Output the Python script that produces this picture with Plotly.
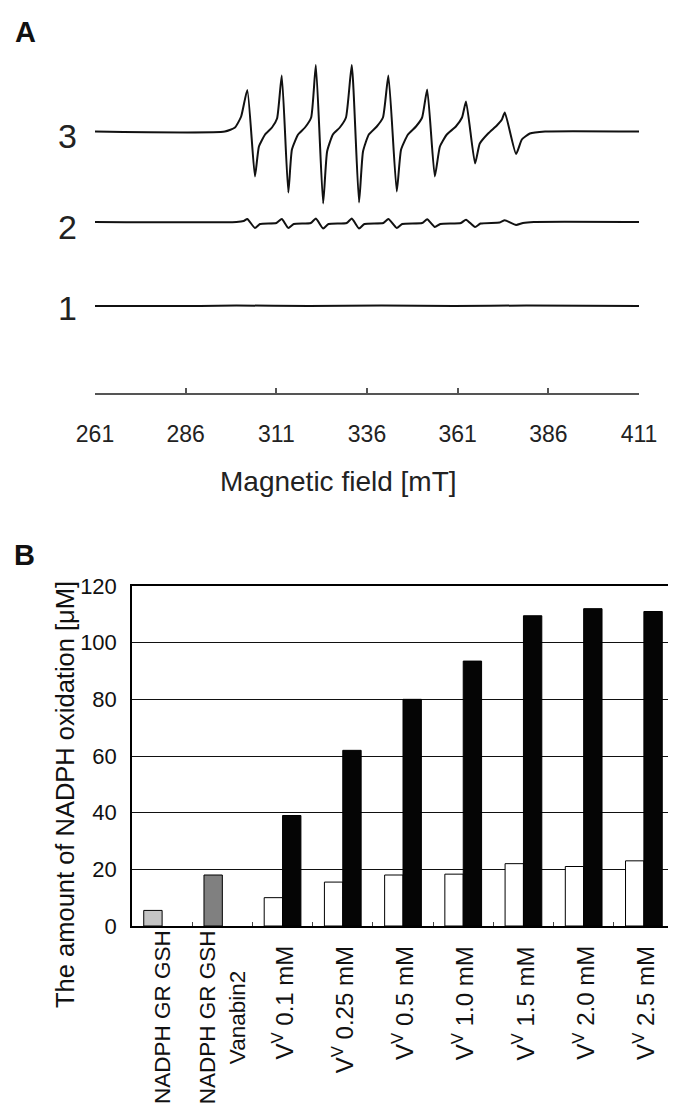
import plotly.graph_objects as go

# ---------------- Panel A data (EPR spectra) ----------------
field_3 = [261, 296.8, 299.6, 301.3, 303.0, 305.1, 306.2, 307.9, 309.8, 311.2,
           312.5, 314.3, 315.3, 317.0, 318.9, 320.6, 321.9, 323.9, 325.0, 326.6,
           328.5, 330.2, 331.8, 333.8, 334.9, 336.5, 338.7, 340.4, 341.9, 344.2,
           345.4, 347.3, 349.5, 351.2, 352.6, 354.7, 356.1, 358.0, 360.5, 362.2,
           363.3, 365.8, 367.1, 369.4, 371.8, 373.2, 374.0, 377.1, 378.7, 380.9,
           385.1, 411]
signal_3 = [0, 0, 4, 15, 41.5, -45, -15, -3, 4, 13,
            56, -61, -18, -3, 4, 14, 66.5, -72, -20, -3,
            4, 14, 66.5, -71, -20, -3, 5, 14, 56, -60,
            -18, -3, 5, 14, 42, -45, -15, -3, 5, 14,
            30, -32, -12, -2, 6, 12, 19, -22.5, -8, -2,
            0, 0]

field_2 = [261, 300.0, 302.0, 303.0, 305.1, 306.5, 311.0, 312.5, 314.3, 315.8,
           320.5, 321.9, 323.9, 325.4, 330.4, 331.8, 333.8, 335.3, 340.5, 341.9,
           344.2, 345.7, 351.2, 352.6, 354.7, 356.2, 361.9, 363.3, 365.8, 367.3,
           372.6, 374.0, 377.1, 379.0, 382.0, 411]
signal_2 = [0, 0, 1, 3, -6, -2, -1, 3, -6, -2,
            -1, 3.5, -6.5, -2, -1, 3.5, -6.5, -2, -1, 3,
            -6, -2, -1, 2.7, -5, -2, -1, 2.3, -5, -1.5,
            -0.5, 1.7, -3, -1, 0, 0]

field_1 = [261, 290, 300, 320, 340, 360, 380, 411]
signal_1 = [0, 0, 0.5, 0, 0.5, 0, 0.5, 0]

trace_labels = ["3", "2", "1"]
field_ticks = [261, 286, 311, 336, 361, 386, 411]

# ---------------- Panel B data ----------------
categories = ["NADPH GR GSH", "NADPH GR GSH<br>Vanabin2", "V<sup>V</sup> 0.1 mM",
              "V<sup>V</sup> 0.25 mM", "V<sup>V</sup> 0.5 mM", "V<sup>V</sup> 1.0 mM",
              "V<sup>V</sup> 1.5 mM", "V<sup>V</sup> 2.0 mM", "V<sup>V</sup> 2.5 mM"]
control_values = [5.5, 18, 10, 15.5, 18, 18.3, 22, 21, 23]
vanabin_values = [None, None, 39, 62, 80, 93.5, 109.5, 112, 111]
y_ticks = [0, 20, 40, 60, 80, 100, 120]

# ---------------- layout helpers (screen pixel geometry; page has an 8px body margin) ----------------
W, H = 676, 1106
OFF = 8
def px(x):
    return (x - OFF) / W
def py(y):
    return (H - (y - OFF)) / H

A_top, A_axis = 50, 393
offsets = {"3": A_axis - 131.5, "2": A_axis - 222, "1": A_axis - 306}
label_tops = [928, 928, 944, 944, 944, 944, 944, 944, 944]
label_sizes = [22.5, 22.5, 24, 24, 24, 24, 24, 24, 24]

FONT = "Liberation Sans, Arial, Helvetica, sans-serif"

fig = go.Figure()

for lab, fx, sg in [("3", field_3, signal_3), ("2", field_2, signal_2), ("1", field_1, signal_1)]:
    fig.add_trace(go.Scatter(
        x=fx, y=[offsets[lab] + v for v in sg], mode="lines",
        line=dict(color="#111111", width=2, shape="spline", smoothing=0.5),
        xaxis="x", yaxis="y", showlegend=False, hoverinfo="skip"))

bar_colors = ["#c4c4c4", "#808080"] + ["#ffffff"] * 7
fig.add_trace(go.Bar(x=categories, y=control_values,
                     marker=dict(color=bar_colors, line=dict(color="#000000", width=1)),
                     xaxis="x2", yaxis="y2", showlegend=False))
fig.add_trace(go.Bar(x=categories, y=vanabin_values,
                     marker=dict(color="#050505", line=dict(color="#000000", width=1)),
                     xaxis="x2", yaxis="y2", showlegend=False))

def note(text, x, y, size, color="#111", angle=0, xref="paper", yanchor="middle"):
    return dict(text=text, x=x, y=y, xref=xref, yref="paper", textangle=angle,
                showarrow=False, xanchor="center", yanchor=yanchor, align="center",
                font=dict(size=size, color=color, family=FONT))

annotations = [
    note("<b>A</b>", px(25), py(32), 29),
    note("<b>B</b>", px(24), py(555), 29),
]
for lab, yc in zip(trace_labels, [136, 227, 308]):
    annotations.append(note(lab, px(67), py(yc), 34, "#222"))
annotations.append(note("Magnetic field [mT]", px(338), py(481), 28, "#222"))
annotations.append(note("The amount of NADPH oxidation [\u03bcM]", px(65), py(795), 25.5, angle=-90))
for c, top, sz in zip(categories, label_tops, label_sizes):
    annotations.append(note(c, c, py(top), sz, angle=-90, xref="x2", yanchor="top"))

fig.update_layout(
    width=W, height=H, autosize=False,
    margin=dict(l=0, r=0, t=0, b=0, pad=0, autoexpand=False),
    paper_bgcolor="white", plot_bgcolor="white",
    font=dict(family=FONT, color="#111"),
    barmode="group", bargap=0.39, bargroupgap=0,
    xaxis=dict(domain=[px(95), px(639)], range=[261, 411], anchor="y", automargin=False,
               showline=True, linecolor="#555", linewidth=1.5,
               ticks="inside", ticklen=5, tickcolor="#555", tickwidth=1.5,
               tickvals=field_ticks, ticktext=[str(t) for t in field_ticks],
               tickfont=dict(size=23, color="#222"), ticklabelstandoff=20,
               showgrid=False, zeroline=False),
    yaxis=dict(domain=[py(A_axis), py(A_top)], range=[0, A_axis - A_top], anchor="x",
               visible=False, showgrid=False, zeroline=False, automargin=False),
    xaxis2=dict(domain=[px(132), px(674)], anchor="y2", type="category", automargin=False,
                showline=True, linecolor="#000", linewidth=1.5, mirror=True,
                ticks="inside", ticklen=4, tickcolor="#444", tickson="boundaries",
                showticklabels=False, showgrid=False, zeroline=False),
    yaxis2=dict(domain=[py(926), py(586)], range=[0, 120], anchor="x2", automargin=False,
                tickvals=y_ticks, ticks="", showline=True, linecolor="#000", linewidth=1.5,
                mirror=True, showgrid=True, gridcolor="#111", gridwidth=1.2,
                tickfont=dict(size=22, color="#111"), ticklabelstandoff=9, zeroline=False),
    annotations=annotations,
)

fig.write_html("out.html")
